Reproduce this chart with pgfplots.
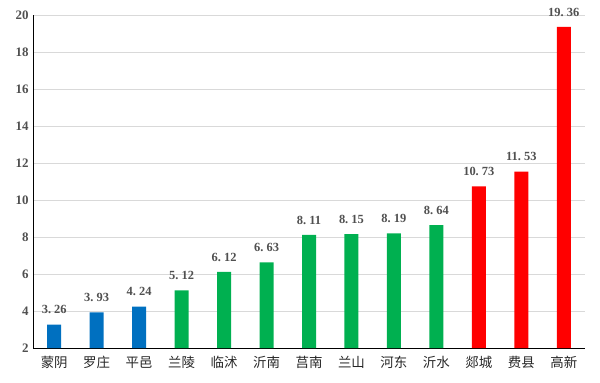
\documentclass[border=0pt]{standalone}
\usepackage{pgfplots}
\pgfplotsset{compat=1.18}
\usepackage{fontspec}
\setmainfont{Liberation Serif}
\newfontfamily\cjk{Noto Sans CJK SC}
\definecolor{cblue}{HTML}{0070C0}
\definecolor{cgreen}{HTML}{00B050}
\definecolor{cred}{HTML}{FF0000}
\definecolor{tgray}{HTML}{505050}
\begin{document}
\begin{tikzpicture}
\begin{axis}[
  scale only axis,
  width=552bp, height=333bp,
  xmin=-0.5, xmax=12.5,
  ymin=2, ymax=20,
  ytick={2,4,...,20},
  xtick={0,...,12},
  xticklabels={蒙阴,罗庄,平邑,兰陵,临沭,沂南,莒南,兰山,河东,沂水,郯城,费县,高新},
  xticklabel style={font=\cjk\fontsize{13.5}{15}\selectfont, text=black!85, yshift=-5bp},
  yticklabel style={font=\bfseries\fontsize{13}{14}\selectfont, text=tgray, xshift=-1bp},
  /pgf/number format/assume math mode=true,
  axis x line*=bottom, axis y line*=left,
  axis line style={black, line width=1bp, -},
  major tick length=0pt,
  ymajorgrids, grid style={line width=0.6bp, color=black!15},
  ybar, bar width=14bp,
  point meta=explicit symbolic,
  nodes near coords,
  nodes near coords style={font=\bfseries\fontsize{12.5}{14}\selectfont, text=tgray, yshift=7bp},
  clip=false,
]
\addplot[fill=cblue, draw=none, bar shift=0pt] coordinates {
 (0,3.26) [3.\ 26] (1,3.93) [3.\ 93] (2,4.24) [4.\ 24]};
\addplot[fill=cgreen, draw=none, bar shift=0pt] coordinates {
 (3,5.12) [5.\ 12] (4,6.12) [6.\ 12] (5,6.63) [6.\ 63] (6,8.11) [8.\ 11]
 (7,8.15) [8.\ 15] (8,8.19) [8.\ 19] (9,8.64) [8.\ 64]};
\addplot[fill=cred, draw=none, bar shift=0pt] coordinates {
 (10,10.73) [10.\ 73] (11,11.53) [11.\ 53] (12,19.36) [19.\ 36]};
\end{axis}
\path (current axis.south west) ++(-33bp,-35bp) (current axis.north east) ++(15bp,15bp);
\end{tikzpicture}
\end{document}
